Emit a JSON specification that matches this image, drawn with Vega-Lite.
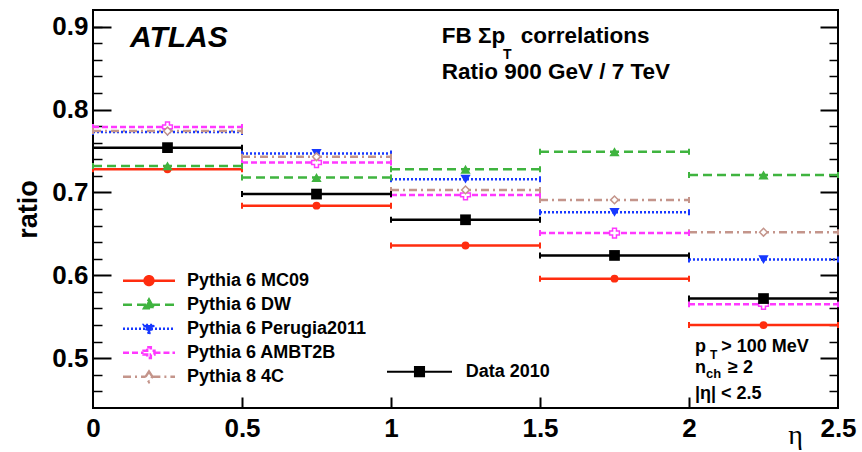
{
"$schema": "https://vega.github.io/schema/vega-lite/v6.json",
"width": 745, "height": 398,
"autosize": {"type": "none"},
"padding": {"left": 93, "top": 10, "right": 24, "bottom": 44},
"background": "white",
"config": {"font": "Liberation Sans", "axis": {"grid": false, "domain": false}, "view": {"stroke": "black", "strokeWidth": 2}},
"datasets": {"bins": [
{"series": "Pythia 6 MC09", "eta_lo": 0, "eta_hi": 0.5, "eta": 0.25, "ratio": 0.728},
{"series": "Pythia 6 MC09", "eta_lo": 0.5, "eta_hi": 1, "eta": 0.75, "ratio": 0.684},
{"series": "Pythia 6 MC09", "eta_lo": 1, "eta_hi": 1.5, "eta": 1.25, "ratio": 0.636},
{"series": "Pythia 6 MC09", "eta_lo": 1.5, "eta_hi": 2, "eta": 1.75, "ratio": 0.596},
{"series": "Pythia 6 MC09", "eta_lo": 2, "eta_hi": 2.5, "eta": 2.25, "ratio": 0.540},
{"series": "Pythia 6 DW", "eta_lo": 0, "eta_hi": 0.5, "eta": 0.25, "ratio": 0.732},
{"series": "Pythia 6 DW", "eta_lo": 0.5, "eta_hi": 1, "eta": 0.75, "ratio": 0.718},
{"series": "Pythia 6 DW", "eta_lo": 1, "eta_hi": 1.5, "eta": 1.25, "ratio": 0.728},
{"series": "Pythia 6 DW", "eta_lo": 1.5, "eta_hi": 2, "eta": 1.75, "ratio": 0.749},
{"series": "Pythia 6 DW", "eta_lo": 2, "eta_hi": 2.5, "eta": 2.25, "ratio": 0.721},
{"series": "Pythia 6 Perugia2011", "eta_lo": 0, "eta_hi": 0.5, "eta": 0.25, "ratio": 0.773},
{"series": "Pythia 6 Perugia2011", "eta_lo": 0.5, "eta_hi": 1, "eta": 0.75, "ratio": 0.747},
{"series": "Pythia 6 Perugia2011", "eta_lo": 1, "eta_hi": 1.5, "eta": 1.25, "ratio": 0.716},
{"series": "Pythia 6 Perugia2011", "eta_lo": 1.5, "eta_hi": 2, "eta": 1.75, "ratio": 0.676},
{"series": "Pythia 6 Perugia2011", "eta_lo": 2, "eta_hi": 2.5, "eta": 2.25, "ratio": 0.619},
{"series": "Pythia 6 AMBT2B", "eta_lo": 0, "eta_hi": 0.5, "eta": 0.25, "ratio": 0.779},
{"series": "Pythia 6 AMBT2B", "eta_lo": 0.5, "eta_hi": 1, "eta": 0.75, "ratio": 0.736},
{"series": "Pythia 6 AMBT2B", "eta_lo": 1, "eta_hi": 1.5, "eta": 1.25, "ratio": 0.697},
{"series": "Pythia 6 AMBT2B", "eta_lo": 1.5, "eta_hi": 2, "eta": 1.75, "ratio": 0.651},
{"series": "Pythia 6 AMBT2B", "eta_lo": 2, "eta_hi": 2.5, "eta": 2.25, "ratio": 0.565},
{"series": "Pythia 8 4C", "eta_lo": 0, "eta_hi": 0.5, "eta": 0.25, "ratio": 0.774},
{"series": "Pythia 8 4C", "eta_lo": 0.5, "eta_hi": 1, "eta": 0.75, "ratio": 0.743},
{"series": "Pythia 8 4C", "eta_lo": 1, "eta_hi": 1.5, "eta": 1.25, "ratio": 0.703},
{"series": "Pythia 8 4C", "eta_lo": 1.5, "eta_hi": 2, "eta": 1.75, "ratio": 0.691},
{"series": "Pythia 8 4C", "eta_lo": 2, "eta_hi": 2.5, "eta": 2.25, "ratio": 0.652},
{"series": "Data 2010", "eta_lo": 0, "eta_hi": 0.5, "eta": 0.25, "ratio": 0.754},
{"series": "Data 2010", "eta_lo": 0.5, "eta_hi": 1, "eta": 0.75, "ratio": 0.698},
{"series": "Data 2010", "eta_lo": 1, "eta_hi": 1.5, "eta": 1.25, "ratio": 0.667},
{"series": "Data 2010", "eta_lo": 1.5, "eta_hi": 2, "eta": 1.75, "ratio": 0.624},
{"series": "Data 2010", "eta_lo": 2, "eta_hi": 2.5, "eta": 2.25, "ratio": 0.572}
]},
"data": {"name": "bins"},
"resolve": {"axis": {"x": "independent", "y": "independent"}},
"layer": [
{"mark": {"type": "rule", "strokeWidth": 2.5},
 "encoding": {
  "x": {"field": "eta_lo", "type": "quantitative", "scale": {"domain": [0, 2.5], "nice": false, "zero": false},
        "axis": {"orient": "bottom", "ticks": false, "values": [0, 0.5, 1, 1.5, 2, 2.5], "format": "~g", "labelFontSize": 26, "labelFontWeight": "bold", "labelColor": "black", "labelPadding": 7, "labelFlush": false,
                 "title": "η", "titleFont": "Liberation Serif", "titleFontWeight": "normal", "titleFontSize": 28, "titleColor": "black", "titleX": 702, "titleY": 35, "titleAlign": "center", "titleBaseline": "alphabetic"}},
  "x2": {"field": "eta_hi"},
  "y": {"field": "ratio", "type": "quantitative", "scale": {"domain": [0.44, 0.92], "nice": false, "zero": false},
        "axis": {"orient": "left", "ticks": false, "values": [0.5, 0.6, 0.7, 0.8, 0.9], "format": ".1f", "labelFontSize": 26, "labelFontWeight": "bold", "labelColor": "black", "labelPadding": 5, "labelFlush": false,
                 "title": "ratio", "titleFontSize": 27, "titleFontWeight": "bold", "titleColor": "black", "titleX": -57, "titleBaseline": "alphabetic"}},
  "color": {"field": "series", "type": "nominal", "legend": null,
            "scale": {"domain": ["Data 2010", "Pythia 6 MC09", "Pythia 6 DW", "Pythia 6 Perugia2011", "Pythia 6 AMBT2B", "Pythia 8 4C"],
                      "range": ["#000000", "#ff2d0f", "#3fb43f", "#1738ff", "#ff38ff", "#c4958b"]}},
  "strokeDash": {"field": "series", "type": "nominal",
            "scale": {"domain": ["Pythia 6 MC09", "Pythia 6 DW", "Pythia 6 Perugia2011", "Pythia 6 AMBT2B", "Pythia 8 4C", "Data 2010"],
                      "range": [[1, 0], [9, 5], [2, 2], [6, 3], [8, 4, 2, 4], [1, 0]]}}
 }},
{"mark": {"type": "point", "shape": "M0,-1V1", "size": 36, "strokeWidth": 2, "filled": false, "opacity": 1},
 "encoding": {
  "x": {"field": "eta_lo", "type": "quantitative", "scale": {"domain": [0, 2.5], "nice": false, "zero": false},
        "axis": {"orient": "bottom", "labels": false, "ticks": true, "tickSize": -11, "tickWidth": 2, "tickColor": "black", "values": [0.5, 1, 1.5, 2], "title": null}},
  "y": {"field": "ratio", "type": "quantitative", "scale": {"domain": [0.44, 0.92], "nice": false, "zero": false},
        "axis": {"orient": "left", "labels": false, "ticks": true, "tickSize": -18, "tickWidth": 2, "tickColor": "black", "values": [0.5, 0.6, 0.7, 0.8, 0.9], "title": null}},
  "color": {"field": "series", "type": "nominal", "legend": null}
 }},
{"mark": {"type": "point", "shape": "M0,-1V1", "size": 36, "strokeWidth": 2, "filled": false, "opacity": 1},
 "encoding": {
  "x": {"field": "eta_hi", "type": "quantitative", "scale": {"domain": [0, 2.5], "nice": false, "zero": false}, "axis": null},
  "y": {"field": "ratio", "type": "quantitative", "scale": {"domain": [0.44, 0.92], "nice": false, "zero": false},
        "axis": {"orient": "left", "labels": false, "ticks": true, "tickSize": -9, "tickWidth": 1.5, "tickColor": "black", "values": [0.46, 0.48, 0.52, 0.54, 0.56, 0.58, 0.62, 0.64, 0.66, 0.68, 0.72, 0.74, 0.76, 0.78, 0.82, 0.84, 0.86, 0.88, 0.9], "title": null}},
  "color": {"field": "series", "type": "nominal", "legend": null}
 }},
{"transform": [{"filter": "datum.series === 'Pythia 6 MC09'"}],
 "mark": {"type": "point", "shape": "circle", "filled": true, "size": 62, "opacity": 1},
 "encoding": {
  "x": {"field": "eta", "type": "quantitative", "scale": {"domain": [0, 2.5], "nice": false, "zero": false}, "axis": null},
  "y": {"field": "ratio", "type": "quantitative", "scale": {"domain": [0.44, 0.92], "nice": false, "zero": false},
        "axis": {"orient": "right", "labels": false, "ticks": true, "tickSize": -18, "tickWidth": 2, "tickColor": "black", "values": [0.5, 0.6, 0.7, 0.8, 0.9], "title": null}},
  "color": {"field": "series", "type": "nominal", "legend": null}
 }},
{"transform": [{"filter": "datum.series === 'Pythia 6 DW'"}],
 "mark": {"type": "point", "shape": "triangle-up", "filled": true, "size": 105, "opacity": 1},
 "encoding": {
  "x": {"field": "eta", "type": "quantitative", "scale": {"domain": [0, 2.5], "nice": false, "zero": false}, "axis": null},
  "y": {"field": "ratio", "type": "quantitative", "scale": {"domain": [0.44, 0.92], "nice": false, "zero": false},
        "axis": {"orient": "right", "labels": false, "ticks": true, "tickSize": -9, "tickWidth": 1.5, "tickColor": "black", "values": [0.46, 0.48, 0.52, 0.54, 0.56, 0.58, 0.62, 0.64, 0.66, 0.68, 0.72, 0.74, 0.76, 0.78, 0.82, 0.84, 0.86, 0.88], "title": null}},
  "color": {"field": "series", "type": "nominal", "legend": null}
 }},
{"transform": [{"filter": "datum.series === 'Pythia 6 Perugia2011'"}],
 "mark": {"type": "point", "shape": "triangle-down", "filled": true, "size": 105, "opacity": 1},
 "encoding": {
  "x": {"field": "eta", "type": "quantitative", "scale": {"domain": [0, 2.5], "nice": false, "zero": false}, "axis": null},
  "y": {"field": "ratio", "type": "quantitative", "scale": {"domain": [0.44, 0.92], "nice": false, "zero": false}, "axis": null},
  "color": {"field": "series", "type": "nominal", "legend": null}
 }},
{"transform": [{"filter": "datum.series === 'Pythia 6 AMBT2B'"}],
 "mark": {"type": "point", "shape": "cross", "filled": false, "fill": "white", "strokeWidth": 1.5, "size": 95, "opacity": 1},
 "encoding": {
  "x": {"field": "eta", "type": "quantitative", "scale": {"domain": [0, 2.5], "nice": false, "zero": false}, "axis": null},
  "y": {"field": "ratio", "type": "quantitative", "scale": {"domain": [0.44, 0.92], "nice": false, "zero": false}, "axis": null},
  "color": {"field": "series", "type": "nominal", "legend": null}
 }},
{"transform": [{"filter": "datum.series === 'Pythia 8 4C'"}],
 "mark": {"type": "point", "shape": "diamond", "filled": false, "fill": "white", "strokeWidth": 1.5, "size": 60, "opacity": 1},
 "encoding": {
  "x": {"field": "eta", "type": "quantitative", "scale": {"domain": [0, 2.5], "nice": false, "zero": false}, "axis": null},
  "y": {"field": "ratio", "type": "quantitative", "scale": {"domain": [0.44, 0.92], "nice": false, "zero": false}, "axis": null},
  "color": {"field": "series", "type": "nominal", "legend": null}
 }},
{"transform": [{"filter": "datum.series === 'Data 2010'"}],
 "mark": {"type": "point", "shape": "square", "filled": true, "size": 115},
 "encoding": {
  "x": {"field": "eta", "type": "quantitative", "scale": {"domain": [0, 2.5], "nice": false, "zero": false}, "axis": null},
  "y": {"field": "ratio", "type": "quantitative", "scale": {"domain": [0.44, 0.92], "nice": false, "zero": false}, "axis": null},
  "color": {"field": "series", "type": "nominal", "legend": null},
  "opacity": {"field": "series", "type": "ordinal", "scale": {"domain": ["Data 2010"], "range": [1, 1]},
     "legend": {"orient": "none", "legendX": 293, "legendY": 351, "title": null, "padding": 0,
        "symbolType": "M-1,0H1M-0.14,-0.14H0.14V0.14H-0.14Z", "symbolSize": 4225, "symbolStrokeWidth": 2,
        "symbolFillColor": "black", "symbolStrokeColor": "black", "symbolOpacity": 1,
        "labelFont": "Liberation Sans", "labelFontSize": 18, "labelFontWeight": "bold", "labelColor": "black", "labelOffset": 12.7, "clipHeight": 21.3}}
 }},
{"transform": [{"filter": "datum.series !== 'Data 2010'"}],
 "mark": {"type": "point", "opacity": 0, "size": 10},
 "encoding": {
  "x": {"field": "eta", "type": "quantitative", "scale": {"domain": [0, 2.5], "nice": false, "zero": false}, "axis": null},
  "y": {"field": "ratio", "type": "quantitative", "scale": {"domain": [0.44, 0.92], "nice": false, "zero": false}, "axis": null},
  "shape": {"field": "series", "type": "nominal",
     "scale": {"domain": ["Pythia 6 MC09", "Pythia 6 DW", "Pythia 6 Perugia2011", "Pythia 6 AMBT2B", "Pythia 8 4C", "Data 2010"],
               "range": ["M-1,0H1M-0.17,0A0.17,0.17,0,1,0,0.17,0A0.17,0.17,0,1,0,-0.17,0Z",
                         "M-1,0H1M0,-0.2L0.19,0.14L-0.19,0.14Z",
                         "M-1,0H1M0,0.2L0.19,-0.14L-0.19,-0.14Z",
                         "M-1,0H-0.21M0.21,0H1M-0.07,-0.21H0.07V-0.07H0.21V0.07H0.07V0.21H-0.07V0.07H-0.21V-0.07H-0.07Z",
                         "M-1,0H-0.13M0.13,0H1M0,-0.2L0.13,0L0,0.2L-0.13,0Z",
                         "square"]},
     "legend": {"orient": "none", "legendX": 28.5, "legendY": 260, "title": null, "padding": 0,
        "values": ["Pythia 6 MC09", "Pythia 6 DW", "Pythia 6 Perugia2011", "Pythia 6 AMBT2B", "Pythia 8 4C"],
        "symbolSize": 2704, "symbolStrokeWidth": 2.5, "symbolOpacity": 1, "symbolFillColor": "white", "symbolStrokeColor": "black",
        "labelFont": "Liberation Sans", "labelFontSize": 18, "labelFontWeight": "bold", "labelColor": "black", "labelOffset": 10.5, "labelLimit": 400,
        "clipHeight": 21.3, "rowPadding": 2}},
  "fill": {"field": "series", "type": "nominal",
     "scale": {"domain": ["Pythia 6 MC09", "Pythia 6 DW", "Pythia 6 Perugia2011", "Pythia 6 AMBT2B", "Pythia 8 4C", "Data 2010"],
               "range": ["#ff2d0f", "#3fb43f", "#1738ff", "#ffffff", "#ffffff", "#000000"]},
     "legend": {"orient": "none", "legendX": 28.5, "legendY": 260, "title": null, "padding": 0,
        "values": ["Pythia 6 MC09", "Pythia 6 DW", "Pythia 6 Perugia2011", "Pythia 6 AMBT2B", "Pythia 8 4C"],
        "symbolSize": 2704, "symbolStrokeWidth": 2.5, "symbolOpacity": 1, "symbolFillColor": "white", "symbolStrokeColor": "black",
        "labelFont": "Liberation Sans", "labelFontSize": 18, "labelFontWeight": "bold", "labelColor": "black", "labelOffset": 10.5, "labelLimit": 400,
        "clipHeight": 21.3, "rowPadding": 2}},
  "stroke": {"field": "series", "type": "nominal",
     "scale": {"domain": ["Pythia 6 MC09", "Pythia 6 DW", "Pythia 6 Perugia2011", "Pythia 6 AMBT2B", "Pythia 8 4C", "Data 2010"],
               "range": ["#ff2d0f", "#3fb43f", "#1738ff", "#ff38ff", "#c4958b", "#000000"]},
     "legend": {"orient": "none", "legendX": 28.5, "legendY": 260, "title": null, "padding": 0,
        "values": ["Pythia 6 MC09", "Pythia 6 DW", "Pythia 6 Perugia2011", "Pythia 6 AMBT2B", "Pythia 8 4C"],
        "symbolSize": 2704, "symbolStrokeWidth": 2.5, "symbolOpacity": 1, "symbolFillColor": "white", "symbolStrokeColor": "black",
        "labelFont": "Liberation Sans", "labelFontSize": 18, "labelFontWeight": "bold", "labelColor": "black", "labelOffset": 10.5, "labelLimit": 400,
        "clipHeight": 21.3, "rowPadding": 2}},
  "strokeDash": {"field": "series", "type": "nominal",
     "legend": {"orient": "none", "legendX": 28.5, "legendY": 260, "title": null, "padding": 0,
        "values": ["Pythia 6 MC09", "Pythia 6 DW", "Pythia 6 Perugia2011", "Pythia 6 AMBT2B", "Pythia 8 4C"],
        "symbolSize": 2704, "symbolStrokeWidth": 2.5, "symbolOpacity": 1, "symbolFillColor": "white", "symbolStrokeColor": "black",
        "labelFont": "Liberation Sans", "labelFontSize": 18, "labelFontWeight": "bold", "labelColor": "black", "labelOffset": 10.5, "labelLimit": 400,
        "clipHeight": 21.3, "rowPadding": 2}}
 }},
{"data": {"values": [{}]},
 "mark": {"type": "text", "text": "ATLAS", "font": "Liberation Sans", "fontSize": 30, "fontWeight": "bold", "fontStyle": "italic", "align": "left", "baseline": "alphabetic", "color": "black"},
 "encoding": {"x": {"datum": 0.1242, "type": "quantitative", "scale": {"domain": [0, 2.5], "nice": false, "zero": false}, "axis": null},
              "y": {"datum": 0.8754, "type": "quantitative", "scale": {"domain": [0.44, 0.92], "nice": false, "zero": false}, "axis": null}}},
{"data": {"values": [{}]},
 "mark": {"type": "text", "text": "FB Σp", "font": "Liberation Sans", "fontSize": 22.5, "fontWeight": "bold", "align": "left", "baseline": "alphabetic", "color": "black"},
 "encoding": {"x": {"datum": 1.1701, "type": "quantitative", "scale": {"domain": [0, 2.5], "nice": false, "zero": false}, "axis": null},
              "y": {"datum": 0.8798, "type": "quantitative", "scale": {"domain": [0.44, 0.92], "nice": false, "zero": false}, "axis": null}}},
{"data": {"values": [{}]},
 "mark": {"type": "text", "text": "T", "font": "Liberation Sans", "fontSize": 14, "fontWeight": "bold", "align": "left", "baseline": "alphabetic", "color": "black"},
 "encoding": {"x": {"datum": 1.3758, "type": "quantitative", "scale": {"domain": [0, 2.5], "nice": false, "zero": false}, "axis": null},
              "y": {"datum": 0.861, "type": "quantitative", "scale": {"domain": [0.44, 0.92], "nice": false, "zero": false}, "axis": null}}},
{"data": {"values": [{}]},
 "mark": {"type": "text", "text": "correlations", "font": "Liberation Sans", "fontSize": 22.5, "fontWeight": "bold", "align": "left", "baseline": "alphabetic", "color": "black"},
 "encoding": {"x": {"datum": 1.435, "type": "quantitative", "scale": {"domain": [0, 2.5], "nice": false, "zero": false}, "axis": null},
              "y": {"datum": 0.8798, "type": "quantitative", "scale": {"domain": [0.44, 0.92], "nice": false, "zero": false}, "axis": null}}},
{"data": {"values": [{}]},
 "mark": {"type": "text", "text": "Ratio 900 GeV / 7 TeV", "font": "Liberation Sans", "fontSize": 22.5, "fontWeight": "bold", "align": "left", "baseline": "alphabetic", "color": "black"},
 "encoding": {"x": {"datum": 1.1701, "type": "quantitative", "scale": {"domain": [0, 2.5], "nice": false, "zero": false}, "axis": null},
              "y": {"datum": 0.8368, "type": "quantitative", "scale": {"domain": [0.44, 0.92], "nice": false, "zero": false}, "axis": null}}},
{"data": {"values": [{}]},
 "mark": {"type": "text", "text": "p", "font": "Liberation Sans", "fontSize": 18, "fontWeight": "bold", "align": "left", "baseline": "alphabetic", "color": "black"},
 "encoding": {"x": {"datum": 2.0201, "type": "quantitative", "scale": {"domain": [0, 2.5], "nice": false, "zero": false}, "axis": null},
              "y": {"datum": 0.5079, "type": "quantitative", "scale": {"domain": [0.44, 0.92], "nice": false, "zero": false}, "axis": null}}},
{"data": {"values": [{}]},
 "mark": {"type": "text", "text": "T", "font": "Liberation Sans", "fontSize": 12, "fontWeight": "bold", "align": "left", "baseline": "alphabetic", "color": "black"},
 "encoding": {"x": {"datum": 2.0705, "type": "quantitative", "scale": {"domain": [0, 2.5], "nice": false, "zero": false}, "axis": null},
              "y": {"datum": 0.4988, "type": "quantitative", "scale": {"domain": [0.44, 0.92], "nice": false, "zero": false}, "axis": null}}},
{"data": {"values": [{}]},
 "mark": {"type": "text", "text": "> 100 MeV", "font": "Liberation Sans", "fontSize": 18, "fontWeight": "bold", "align": "left", "baseline": "alphabetic", "color": "black"},
 "encoding": {"x": {"datum": 2.108, "type": "quantitative", "scale": {"domain": [0, 2.5], "nice": false, "zero": false}, "axis": null},
              "y": {"datum": 0.5079, "type": "quantitative", "scale": {"domain": [0.44, 0.92], "nice": false, "zero": false}, "axis": null}}},
{"data": {"values": [{}]},
 "mark": {"type": "text", "text": "n", "font": "Liberation Sans", "fontSize": 18, "fontWeight": "bold", "align": "left", "baseline": "alphabetic", "color": "black"},
 "encoding": {"x": {"datum": 2.0201, "type": "quantitative", "scale": {"domain": [0, 2.5], "nice": false, "zero": false}, "axis": null},
              "y": {"datum": 0.4819, "type": "quantitative", "scale": {"domain": [0.44, 0.92], "nice": false, "zero": false}, "axis": null}}},
{"data": {"values": [{}]},
 "mark": {"type": "text", "text": "ch", "font": "Liberation Sans", "fontSize": 13, "fontWeight": "bold", "align": "left", "baseline": "alphabetic", "color": "black"},
 "encoding": {"x": {"datum": 2.057, "type": "quantitative", "scale": {"domain": [0, 2.5], "nice": false, "zero": false}, "axis": null},
              "y": {"datum": 0.4756, "type": "quantitative", "scale": {"domain": [0.44, 0.92], "nice": false, "zero": false}, "axis": null}}},
{"data": {"values": [{}]},
 "mark": {"type": "text", "text": "≥ 2", "font": "Liberation Sans", "fontSize": 18, "fontWeight": "bold", "align": "left", "baseline": "alphabetic", "color": "black"},
 "encoding": {"x": {"datum": 2.1309, "type": "quantitative", "scale": {"domain": [0, 2.5], "nice": false, "zero": false}, "axis": null},
              "y": {"datum": 0.4819, "type": "quantitative", "scale": {"domain": [0.44, 0.92], "nice": false, "zero": false}, "axis": null}}},
{"data": {"values": [{}]},
 "mark": {"type": "text", "text": "|η| < 2.5", "font": "Liberation Sans", "fontSize": 18, "fontWeight": "bold", "align": "left", "baseline": "alphabetic", "color": "black"},
 "encoding": {"x": {"datum": 2.0201, "type": "quantitative", "scale": {"domain": [0, 2.5], "nice": false, "zero": false}, "axis": null},
              "y": {"datum": 0.4509, "type": "quantitative", "scale": {"domain": [0.44, 0.92], "nice": false, "zero": false}, "axis": null}}}
]
}
